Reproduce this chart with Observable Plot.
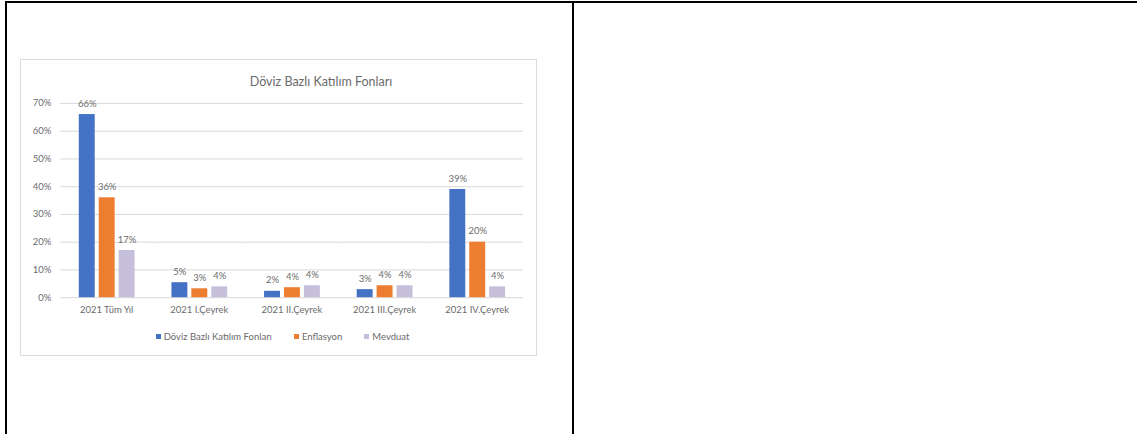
<!DOCTYPE html>
<html>
<head>
<meta charset="utf-8">
<script src="https://cdn.jsdelivr.net/npm/d3@7"></script>
<script src="https://cdn.jsdelivr.net/npm/@observablehq/plot@0.6"></script>
<style>
  html, body { margin: 0; padding: 0; background: #fff; width: 1138px; height: 434px; overflow: hidden; }
  .line { position: absolute; background: #000; }
  #box { position: absolute; left: 20px; top: 59px; width: 515px; height: 295px; border: 1px solid #dcdcdc; background: #fff; font-family: Lato, "Open Sans", sans-serif; color: #6b6b6b; }
  #title { position: absolute; left: 300px; top: 14px; transform: translateX(-50%); font-size: 12.5px; white-space: nowrap; }
  #chart { position: absolute; left: 0; top: 30px; }
  #legend { position: absolute; left: 0; width: 515px; top: 271px; display: flex; justify-content: center; gap: 22px; font-size: 9.5px; padding-left: 8px; box-sizing: border-box; }
  #legend span.item { display: flex; align-items: center; gap: 3px; }
  #legend span.sw { width: 5px; height: 5px; display: inline-block; }
</style>
</head>
<body>
<div class="line" style="left:5px; top:1px; width:1132px; height:2px;"></div>
<div class="line" style="left:5px; top:1px; width:2px; height:433px;"></div>
<div class="line" style="left:572px; top:1px; width:2px; height:433px;"></div>
<div id="box">
  <div id="title">Döviz Bazlı Katılım Fonları</div>
  <div id="chart"></div>
  <div id="legend"></div>
</div>
<script>
const categories = ["2021 Tüm Yıl", "2021 I.Çeyrek", "2021 II.Çeyrek", "2021 III.Çeyrek", "2021 IV.Çeyrek"];
const series = ["Döviz Bazlı Katılım Fonları", "Enflasyon", "Mevduat"];
const fonValues = [0.66, 0.054, 0.023, 0.029, 0.39];
const enflasyonValues = [0.36, 0.032, 0.036, 0.043, 0.20];
const mevduatValues = [0.17, 0.039, 0.043, 0.043, 0.039];
const seriesColors = ["#4472C4", "#ED7D31", "#C5BFDB"];
const yTicks = [0, 0.1, 0.2, 0.3, 0.4, 0.5, 0.6, 0.7];

const valuesBySeries = [fonValues, enflasyonValues, mevduatValues];
const data = [];
categories.forEach((c, i) => {
  series.forEach((s, j) => data.push({category: c, series: s, value: valuesBySeries[j][i]}));
});
const pct = d3.format(".0%");

const chart = Plot.plot({
  width: 517,
  height: 240,
  marginLeft: 39,
  marginRight: 13,
  marginTop: 13,
  marginBottom: 32,
  style: {fontFamily: "Lato, 'Open Sans', sans-serif", fontSize: "9.5px", color: "#6b6b6b", background: "transparent"},
  fx: {domain: categories, padding: 0, label: null, axis: "bottom", tickSize: 0, tickPadding: 9},
  x: {domain: series, axis: null, paddingInner: 0.22, paddingOuter: 0.865},
  y: {domain: [0, 0.7], ticks: yTicks, tickFormat: pct, tickSize: 0, tickPadding: 9, label: null},
  color: {domain: series, range: seriesColors},
  marks: [
    Plot.ruleY(yTicks, {stroke: "#d9d9d9", strokeWidth: 1}),
    Plot.barY(data, {fx: "category", x: "series", y: "value", fill: "series"}),
    Plot.text(data, {fx: "category", x: "series", y: "value", text: d => pct(d.value), dy: -11, fill: "#6b6b6b", fontSize: 9.5})
  ]
});
document.getElementById("chart").appendChild(chart);

const legend = document.getElementById("legend");
series.forEach((s, j) => {
  const item = document.createElement("span");
  item.className = "item";
  const sw = document.createElement("span");
  sw.className = "sw";
  sw.style.background = seriesColors[j];
  item.appendChild(sw);
  item.appendChild(document.createTextNode(s));
  legend.appendChild(item);
});
</script>
</body>
</html>
